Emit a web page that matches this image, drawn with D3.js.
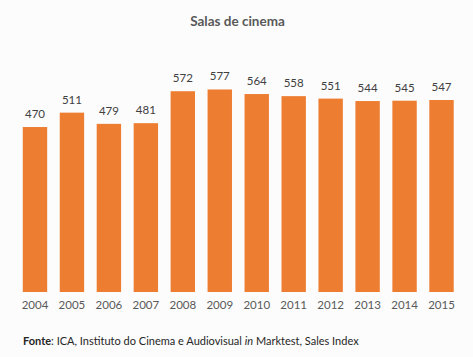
<!DOCTYPE html>
<html><head><meta charset="utf-8">
<script src="https://cdn.jsdelivr.net/npm/d3@7"></script>
<style>
html,body{margin:0;padding:0;background:#fcfcfc;}
svg{display:block;font-family:Lato, "Open Sans", sans-serif;}
</style></head>
<body>
<svg id="c" width="473" height="357"></svg>
<script>
const years = ["2004","2005","2006","2007","2008","2009","2010","2011","2012","2013","2014","2015"];
const salas = [470,511,479,481,572,577,564,558,551,544,545,547];
const title = "Salas de cinema";

const svg = d3.select("#c");
svg.append("rect").attr("width",473).attr("height",357).attr("fill","#fcfcfc");

const x = d3.scaleBand().domain(years).range([16.5,460]).paddingInner(0.34).paddingOuter(0.17);
const y = d3.scaleLinear().domain([0,600]).range([292,81.4]);

svg.append("text").attr("x",237.5).attr("y",26).attr("text-anchor","middle")
  .attr("font-size",13.5).attr("font-weight","bold").attr("fill","#595959").text(title);

svg.selectAll("rect.bar").data(years).join("rect").attr("class","bar")
  .attr("x",d=>x(d)).attr("width",x.bandwidth())
  .attr("y",(d,i)=>y(salas[i])).attr("height",(d,i)=>y(0)-y(salas[i]))
  .attr("fill","#ED7D31");

svg.selectAll("text.val").data(years).join("text").attr("class","val")
  .attr("x",d=>x(d)+x.bandwidth()/2).attr("y",(d,i)=>y(salas[i])-9)
  .attr("text-anchor","middle").attr("font-size",11.5).attr("fill","#404040")
  .text((d,i)=>salas[i]);

const ax = svg.append("g").attr("transform","translate(0,292)")
  .call(d3.axisBottom(x).tickSize(0).tickPadding(9));
ax.select(".domain").remove();
ax.selectAll("text").attr("font-size",11.5).attr("fill","#595959").attr("font-family","Lato, 'Open Sans', sans-serif");

const src = svg.append("text").attr("x",23).attr("y",345).attr("font-size",11).attr("fill","#262626");
src.append("tspan").attr("font-weight","bold").text("Fonte");
src.append("tspan").text(": ICA, Instituto do Cinema e Audiovisual ");
src.append("tspan").attr("font-style","italic").text("in");
src.append("tspan").text(" Marktest, Sales Index");
</script>
</body></html>
